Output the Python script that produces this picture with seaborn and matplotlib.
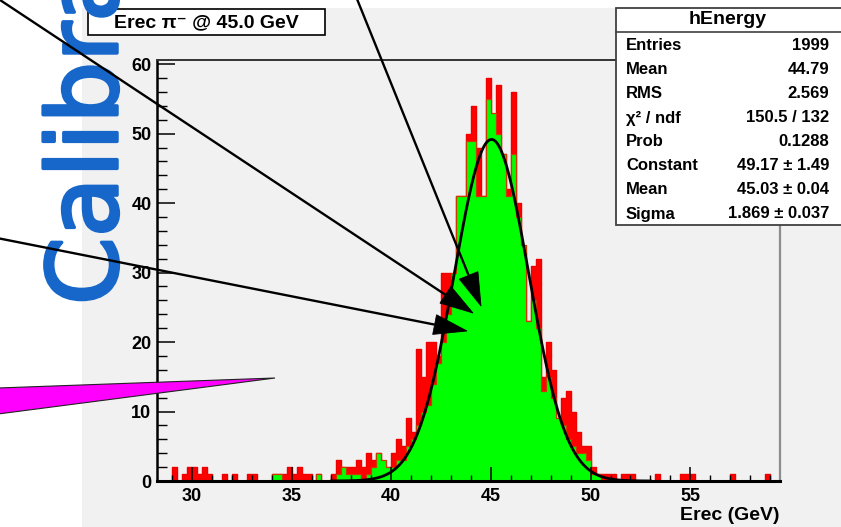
import numpy as np
import pandas as pd
import matplotlib
matplotlib.use("Agg")
import matplotlib.pyplot as plt
from matplotlib.ticker import MultipleLocator
from matplotlib.patches import Rectangle, Polygon
import matplotlib.patheffects as pe
import seaborn as sns

# ---- histogram hEnergy: reconstructed energy, 0.25 GeV bins from 28.25 to 59.5 GeV
x_min, x_max, bin_width = 28.25, 59.5, 0.25

# outline (red) level of each bin
line_counts = [
    0, 0, 0, 2, 0, 1, 2, 2, 1, 2,
    1, 0, 0, 1, 0, 1, 0, 0, 1, 1,
    0, 0, 0, 1, 1, 1, 2, 1, 2, 1,
    1, 0, 1, 0, 0, 1, 3, 2, 2, 2,
    3, 2, 4, 3, 4, 2, 2, 4, 6, 5,
    9, 7, 19, 15, 20, 20, 18, 30, 30, 28,
    41, 41, 50, 54, 48, 41, 58, 45, 57, 47,
    42, 56, 40, 33, 23, 31, 32, 15, 20, 16,
    8, 12, 13, 10, 7, 5, 5, 2, 1, 1,
    1, 1, 0, 1, 1, 1, 0, 0, 0, 0,
    1, 0, 0, 0, 0, 1, 1, 1, 0, 0,
    0, 0, 0, 0, 0, 1, 0, 0, 0, 0,
    0, 0, 1, 0, 0,
]
# filled (green) level of each bin
fill_counts = [
    0, 0, 0, 0, 0, 0, 0, 0, 0, 0,
    0, 0, 0, 0, 0, 0, 0, 0, 0, 0,
    0, 0, 0, 1, 1, 0, 0, 0, 0, 0,
    0, 0, 1, 0, 0, 0, 1, 2, 1, 1,
    1, 0, 1, 2, 4, 3, 2, 2, 3, 3,
    5, 6, 8, 10, 11, 14, 17, 20, 24, 30,
    41, 41, 49, 49, 41, 41, 55, 53, 50, 47,
    41, 47, 38, 34, 23, 26, 22, 13, 15, 12,
    9, 8, 6, 5, 4, 4, 3, 1, 1, 0,
    0, 0, 0, 0, 0, 0, 0, 0, 0, 0,
    0, 0, 0, 0, 0, 0, 0, 0, 0, 0,
    0, 0, 0, 0, 0, 0, 0, 0, 0, 0,
    0, 0, 0, 0, 0,
]

# ---- gaussian fit results
fit_constant, fit_mean, fit_sigma = 49.17, 45.03, 1.869
fit_range = (37.0, 53.0)

title_text = "Erec \u03c0\u207b @ 45.0 GeV"
x_label = "Erec (GeV)"
stats_title = "hEnergy"
stats_labels = ["Entries", "Mean", "RMS", "\u03c7\u00b2 / ndf", "Prob",
                "Constant", "Mean", "Sigma"]
stats_values = ["1999", "44.79", "2.569", "150.5 / 132", "0.1288",
                "49.17 \u00b1 1.49", "45.03 \u00b1 0.04", "1.869 \u00b1 0.037"]
note_text = "Calibration"

# ---- styling
plt.rcParams["font.family"] = ["Liberation Sans", "DejaVu Sans"]
plt.rcParams["font.weight"] = "bold"
W, H = 841, 527
canvas_grey = "#f1f1f1"

fig = plt.figure(figsize=(W / 100, H / 100), dpi=100)
fig.patch.set_facecolor("white")

# canvas background
bg = fig.add_axes([0, 0, 1, 1], zorder=-5)
bg.set_xlim(0, W)
bg.set_ylim(H, 0)
bg.axis("off")
bg.add_patch(Rectangle((82, 8), W - 82, H - 8, fc=canvas_grey, ec="none"))

# main frame
left, right, top, bottom = 157, 780, 60, 481
ax = fig.add_axes([left / W, 1 - bottom / H, (right - left) / W, (bottom - top) / H])
ax.set_facecolor(canvas_grey)

n_bins = len(line_counts)
centers = x_min + bin_width * (np.arange(n_bins) + 0.5)
df = pd.DataFrame({"E": centers, "line": line_counts, "fill": fill_counts})

sns.histplot(data=df, x="E", weights="line", binwidth=bin_width,
             binrange=(x_min, x_max), element="step",
             fill=True, color="#ff0000", alpha=1, edgecolor="#ee0000",
             linewidth=1.0, ax=ax)
sns.histplot(data=df, x="E", weights="fill", binwidth=bin_width,
             binrange=(x_min, x_max), element="step",
             fill=True, color="#00ff00", alpha=1, edgecolor="#cc3a00",
             linewidth=0.9, ax=ax)

fit_x = np.linspace(fit_range[0], fit_range[1], 500)
fit_y = fit_constant * np.exp(-0.5 * ((fit_x - fit_mean) / fit_sigma) ** 2)
sns.lineplot(x=fit_x, y=fit_y, color="black", linewidth=2.0, ax=ax)

ax.set_xlim(x_min, x_max)
ax.set_ylim(0, 60.6)
ax.set_xlabel("")
ax.set_ylabel("")
ax.xaxis.set_major_locator(MultipleLocator(5))
ax.xaxis.set_minor_locator(MultipleLocator(1))
ax.yaxis.set_major_locator(MultipleLocator(10))
ax.yaxis.set_minor_locator(MultipleLocator(2))
ax.tick_params(axis="x", which="major", direction="in", length=10, width=1.1,
               pad=5, labelsize=13, top=False)
ax.tick_params(axis="x", which="minor", direction="in", length=4.5, width=1.0,
               top=False)
ax.tick_params(axis="y", which="major", direction="in", length=13, width=1.1,
               pad=4, labelsize=13, right=False)
ax.tick_params(axis="y", which="minor", direction="in", length=7, width=1.0,
               right=False)
for lab in ax.get_xticklabels() + ax.get_yticklabels():
    lab.set_fontweight("bold")
ax.spines["left"].set_linewidth(1.8)
ax.spines["left"].set_color("black")
ax.spines["bottom"].set_linewidth(2.2)
ax.spines["bottom"].set_color("black")
ax.spines["top"].set_linewidth(1.4)
ax.spines["top"].set_color("#333333")
ax.spines["right"].set_linewidth(1.6)
ax.spines["right"].set_color("#8c8c8c")

fig.text(780 / W, 1 - 515 / H, x_label, ha="right", va="center",
         fontsize=14, fontweight="bold")

# ---- overlay in pixel coordinates: title box, stats box, annotations
ov = fig.add_axes([0, 0, 1, 1], zorder=10)
ov.set_xlim(0, W)
ov.set_ylim(H, 0)
ov.axis("off")
ov.patch.set_alpha(0)

# title box
ov.add_patch(Rectangle((88, 9), 237, 26, fc="white", ec="black", lw=1.2, zorder=1))
ov.text(206, 22.5, title_text, ha="center", va="center", fontsize=14,
        fontweight="bold", zorder=2)

# stats box
ov.add_patch(Rectangle((616, 8), 240, 217, fc="white", ec="#404040", lw=1.3, zorder=1))
ov.plot([616, W], [32, 32], color="#404040", lw=1.2, zorder=2)
ov.text(728, 20, stats_title, ha="center", va="center", fontsize=14,
        fontweight="bold", zorder=2)
for i, (lab, val) in enumerate(zip(stats_labels, stats_values)):
    y = 46 + 24 * i
    ov.text(626, y, lab, ha="left", va="center", fontsize=12,
            fontweight="bold", zorder=2)
    ov.text(829, y, val, ha="right", va="center", fontsize=12,
            fontweight="bold", zorder=2)

# magenta pointer
ov.add_patch(Polygon([(-2, 388), (275, 378), (-2, 414)], closed=True,
                     fc="#ff00ff", ec="#222222", lw=0.8, zorder=3))


def arrow(p0, p1, head_len=33, half_w=10):
    p0 = np.asarray(p0, float)
    p1 = np.asarray(p1, float)
    d = (p1 - p0) / np.linalg.norm(p1 - p0)
    n = np.array([-d[1], d[0]])
    base = p1 - d * head_len
    ov.plot([p0[0], base[0]], [p0[1], base[1]], color="black", lw=1.7,
            solid_capstyle="butt", zorder=5)
    ov.add_patch(Polygon([p1, base + n * half_w, base - n * half_w], closed=True,
                         fc="black", ec="black", lw=0.6, zorder=5))


arrow((-3, -2), (473, 313))
arrow((-3, 238), (467, 331))
arrow((357, -1), (481, 306))

# handwritten note, running up the left margin
blue = "#1766c9"
ov.text(117, 305, note_text, rotation=90, rotation_mode="anchor", ha="left",
        va="baseline", fontsize=70, color=blue, family="DejaVu Sans",
        fontweight="normal", zorder=4,
        path_effects=[pe.withStroke(linewidth=2.5, foreground=blue,
                                    capstyle="round", joinstyle="round")])

fig.savefig("out.png", dpi=100)
